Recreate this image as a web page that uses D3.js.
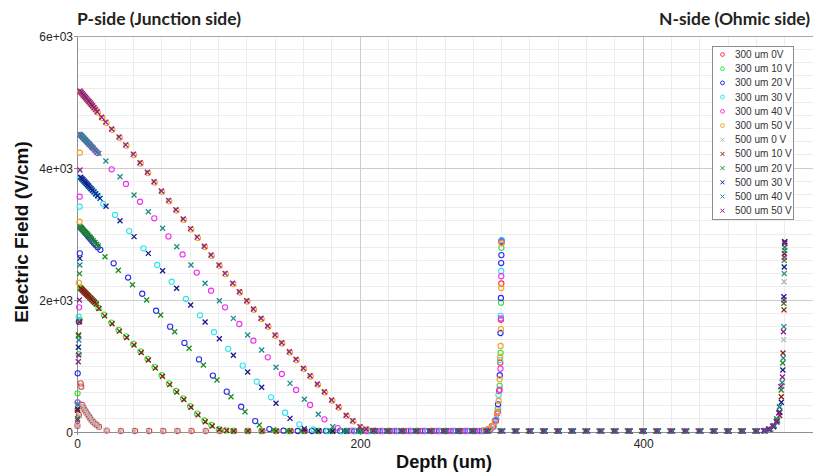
<!DOCTYPE html>
<html><head><meta charset="utf-8">
<script src="https://cdn.jsdelivr.net/npm/d3@7"></script>
<style>body{margin:0;background:#fff}svg{display:block}</style>
</head><body>
<svg id="chart" width="813" height="473"></svg>
<script>
// Electric field vs depth, 300 um and 500 um sensors at several bias voltages
const legendLabels = ["300 um 0V","300 um 10 V","300 um 20 V","300 um 30 V","300 um 40 V","300 um 50 V",
  "500 um 0 V","500 um 10 V","500 um 20 V","500 um 30 V","500 um 40 V","500 um 50 V"];
const seriesColors = ["#ee3b3b","#2ee62e","#2a2aee","#2ee4f0","#ee2eee","#f5a326",
  "#b4b4b4","#8b1a1a","#1e8c1e","#1a1a8b","#1f8b8b","#8b1f8b"];
const seriesShapes = ["circle","circle","circle","circle","circle","circle","cross","cross","cross","cross","cross","cross"];
const xTickValues = [0,200,400];
const yTickValues = [0,2000,4000,6000];
const yTickLabels = ["0","2e+03","4e+03","6e+03"];

// [depth (um), field (V/cm)]
const s300_0V = [[0.3,95],[1.4,260],[2.6,738],[3.0,686],
 [3.7,409],[4.5,374],[5.4,333],[6.4,303],[7.3,273],[8.3,242],[9.2,212],[10.1,182],[11.3,156],[12.5,131],[13.9,106],[15.5,80],
 [21,22],[31,15],[41,15],[51,15],[61,15],[71,15],[81,15],[91,15],[101,15],[111,15],[121,15],[131,15],[141,15],[151,15],[161,15],[171,15],[181,15],[191,15],[201,15],[211,15],[221,15],[231,15],[241,15],[251,15],[261,15],[271,15],[281,15],
 [287,22],[290.5,45],[293,90],[295.2,170],[296.8,280],[298.2,620],[299.1,1050],[299.5,1700],[299.8,2250],[300,2870]];
const s300_10V = [[0.4,586],[1.2,1180],[1.9,1700],
 [2.4,2190],[3.1,2174],[3.8,2158],[4.5,2142],[5.2,2126],[5.9,2110],[6.6,2094],[7.3,2078],[8.0,2062],[8.8,2045],[9.6,2027],[10.4,2010],[11.3,1990],[12.2,1970],[13.4,1945],[15.2,1880],
 [19.0,1778],[24.2,1658],[29.4,1546],[34.5,1450],[39.7,1336],[44.8,1223],[49.8,1109],[54.8,986],[59.8,863],[64.9,736],[69.9,622],[74.9,510],[79.9,392],[84.9,278],[90.0,174],[94.9,106],[100.1,45],[105.1,24],
 [110.2,15],[120.2,15],[130.2,15],[140.2,15],[150.2,15],[160.2,15],[170.2,15],[180.2,15],[190.2,15],[200.2,15],[210.2,15],[220.2,15],[230.2,15],[240.2,15],[250.2,15],[260.2,15],[270.2,15],[280.2,15],
 [289,20],[291.8,40],[294,85],[295.8,160],[297.3,350],[298.6,700],[299.3,1200],[299.6,1960],[299.85,2790],[300,2890]];
const s300_20V = [[0.5,889],[1.3,1671],[2.0,2707],
 [2.5,3100],[3.3,3080],[4.1,3060],[4.9,3040],[5.7,3020],[6.5,3000],[7.3,2980],[8.1,2960],[8.9,2940],[9.8,2917],[10.8,2892],[11.9,2865],[13.1,2835],[14.6,2800],[16.5,2760],
 [25.9,2556],[36.1,2340],[46.1,2095],[55.9,1838],[65.8,1596],[75.9,1350],[86.2,1100],[96,855],[105.8,611],[116,383],[125.9,165],[135.9,45],[145.9,20],
 [155.9,15],[165.9,15],[175.9,15],[185.9,15],[195.9,15],[205.9,15],[215.9,15],[225.9,15],[235.9,15],[245.9,15],[255.9,15],[265.9,15],[275.9,15],[285.9,15],
 [289.5,18],[292,38],[294.2,80],[296,170],[297.5,420],[298.7,860],[299.2,1500],[299.5,2030],[299.7,2560],[299.85,2680],[300,2900]];
const s300_30V = [[0.4,450],[1.2,1747],[1.9,3414],
 [2.6,3850],[3.4,3833],[4.2,3815],[5.0,3797],[5.8,3779],[6.6,3761],[7.4,3743],[8.2,3725],[9.0,3706],[9.9,3685],[10.9,3662],[12.0,3636],[13.2,3607],[14.7,3572],
 [18.6,3455],[26.9,3288],[36.9,3045],[46.9,2783],[56.7,2530],[66.9,2277],[77,2015],[86.9,1768],[96.8,1512],[106.9,1260],[117.1,1005],[127,762],[137.1,526],[147,292],[157.1,116],[167,38],
 [177,15],[187,15],[197,15],[207,15],[217,15],[227,15],[237,15],[247,15],[257,15],[267,15],[277,15],[287,15],
 [289.8,20],[292.5,45],[294.6,95],[296.3,200],[297.8,560],[298.9,1090],[299.4,1760],[299.7,2440],[300,2910]];
const s300_40V = [[0.5,450],[1.5,1889],[1.9,3565],
 [2.5,4500],[3.3,4482],[4.1,4464],[4.9,4446],[5.7,4428],[6.5,4410],[7.3,4392],[8.1,4374],[8.9,4355],[9.8,4334],[10.8,4311],[11.9,4286],[13.1,4258],[14.5,4226],
 [24.5,3980],[34.6,3758],[44.5,3489],[54.6,3238],[64.6,2964],[74.6,2690],[84.6,2415],[94.7,2141],[104.6,1889],[114.7,1636],[124.6,1383],[134.8,1131],[144.7,879],[154.8,636],[164.7,409],[174.8,192],[184.2,60],[194.2,22],
 [204.2,15],[214.2,15],[224.2,15],[234.2,15],[244.2,15],[254.2,15],[264.2,15],[274.2,15],[284.2,15],
 [289.2,18],[291.8,40],[294,85],[295.9,180],[297.4,310],[298.6,640],[299.2,960],[299.5,1720],[299.75,2360],[300,2880]];
const s300_50V = [[0.3,333],[1.3,2262],[1.8,3186],[2.0,4232],
 [2.4,5150],[3.2,5131],[4.0,5111],[4.8,5091],[5.6,5071],[6.4,5051],[7.2,5031],[8.0,5011],[8.8,4991],[9.6,4971],[10.5,4948],[11.4,4925],[12.4,4900],[13.5,4872],[14.8,4840],
 [17.9,4758],[20.8,4683],[25.0,4578],[30.2,4458],[34.9,4338],[40.3,4198],[45.0,4068],[50.2,3923],[54.9,3780],[60.1,3639],[65.2,3498],[70.4,3355],[75.5,3214],[80.7,3070],[85.4,2941],[90.4,2803],[95.2,2670],[100.8,2518],[105.1,2392],[110.5,2241],[115.2,2114],[120.4,1977],[125.1,1852],[130.5,1711],[135.2,1594],[140.4,1458],[145.1,1341],[150.5,1205],[155.2,1089],[160.4,953],[165.1,841],[170.3,715],[175.2,599],[180.4,473],[185.1,371],[190.6,243],[195.3,161],[200.4,74],[204.7,40],[210,20],
 [220,15],[230,15],[240,15],[250,15],[260,15],[270,15],[280,15],
 [288.5,20],[291,42],[293.3,80],[295.3,150],[296.9,300],[297.9,470],[298.6,800],[299.0,1136],[299.3,1303],[299.5,1560],[299.75,2182],[300,2860]];

const s500_0V = [[0.4,90],[1.5,250],[2.7,710],
 [3.9,400],[4.7,366],[5.6,328],[6.6,298],[7.5,268],[8.5,237],[9.4,207],[10.3,178],[11.5,152],[12.7,127],[14.1,103],[15.7,78],
 [20.5,22],[30.5,15],[40.5,15],[50.5,15],[60.5,15],[70.5,15],[80.5,15],[90.5,15],[100.5,15],[110.5,15],[120.5,15],[130.5,15],[140.5,15],[150.5,15],[160.5,15],[170.5,15],[180.5,15],[190.5,15],[200.5,15],[210.5,15],[220.5,15],[230.5,15],[240.5,15],[250.5,15],[260.5,15],[270.5,15],[280.5,15],[290.5,15],[300.5,15],[310.5,15],[320.5,15],[330.5,15],[340.5,15],[350.5,15],[360.5,15],[370.5,15],[380.5,15],[390.5,15],[400.5,15],[410.5,15],[420.5,15],[430.5,15],[440.5,15],[450.5,15],[460.5,15],[470.5,15],[480.5,15],
 [487,22],[490.5,45],[493,90],[495.2,170],[496.8,300],[498.2,700],[499.2,1400],[499.6,2277],[500,2850]];
const s500_10V = [[0.4,330],[1.1,1470],[1.8,1671],
 [2.6,2177],[3.3,2162],[4.0,2147],[4.7,2132],[5.4,2117],[6.1,2102],[6.8,2087],[7.5,2072],[8.2,2057],[9.0,2040],[9.8,2022],[10.6,2004],[11.5,1985],[12.4,1966],[13.6,1940],[15.5,1870],
 [19.6,1760],[24.8,1640],[30.0,1528],[35.1,1432],[40.3,1318],[45.4,1205],[50.4,1091],[55.4,968],[60.4,845],[65.5,718],[70.5,604],[75.5,492],[80.5,374],[85.5,260],[90.6,156],[95.5,90],[100.7,38],[105.7,22],
 [110.7,15],[120.7,15],[130.7,15],[140.7,15],[150.7,15],[160.7,15],[170.7,15],[180.7,15],[190.7,15],[200.7,15],[210.7,15],[220.7,15],[230.7,15],[240.7,15],[250.7,15],[260.7,15],[270.7,15],[280.7,15],[290.7,15],[300.7,15],[310.7,15],[320.7,15],[330.7,15],[340.7,15],[350.7,15],[360.7,15],[370.7,15],[380.7,15],[390.7,15],[400.7,15],[410.7,15],[420.7,15],[430.7,15],[440.7,15],[450.7,15],[460.7,15],[470.7,15],[480.7,15],
 [486.5,20],[489.6,40],[492.3,85],[494.6,170],[496.4,250],[497.6,535],[498.8,1197],[499.5,1850],[499.8,2700],[500,2880]];
const s500_20V = [[0.4,200],[1.0,1454],[1.8,2400],
 [2.1,3111],[2.9,3094],[3.7,3076],[4.5,3058],[5.3,3040],[6.1,3022],[6.9,3004],[7.7,2986],[8.5,2968],[9.4,2947],[10.4,2924],[11.5,2898],[12.7,2870],[13.9,2842],[15,2818],
 [19.8,2656],[29.2,2450],[39.2,2230],[49.2,2000],[59.1,1773],[69,1520],[79.2,1268],[89.3,1015],[98.9,788],[108.8,535],[118.7,308],[128.8,106],[138.8,32],
 [148.8,15],[158.8,15],[168.8,15],[178.8,15],[188.8,15],[198.8,15],[208.8,15],[218.8,15],[228.8,15],[238.8,15],[248.8,15],[258.8,15],[268.8,15],[278.8,15],[288.8,15],[298.8,15],[308.8,15],[318.8,15],[328.8,15],[338.8,15],[348.8,15],[358.8,15],[368.8,15],[378.8,15],[388.8,15],[398.8,15],[408.8,15],[418.8,15],[428.8,15],[438.8,15],[448.8,15],[458.8,15],[468.8,15],[478.8,15],
 [485.5,20],[488.8,42],[491.8,85],[494.3,200],[496.2,380],[497.5,636],[498.6,1045],[499.4,1950],[499.7,2600],[500,2800]];
const s500_30V = [[0.4,350],[1.0,1283],[2.0,2631],
 [2.6,3859],[3.4,3840],[4.2,3821],[5.0,3802],[5.8,3783],[6.6,3764],[7.4,3745],[8.2,3726],[9.0,3707],[9.9,3686],[10.9,3663],[12.0,3638],[13.2,3611],[14.6,3580],[16.3,3540],
 [20.5,3420],[30.4,3200],[40.3,2960],[50.4,2707],[60.5,2444],[70.4,2177],[80.3,1924],[90.5,1667],[100.6,1414],[110.5,1162],[120.6,909],[130.5,677],[140.6,435],[150.5,207],[160.6,50],
 [170.6,15],[180.6,15],[190.6,15],[200.6,15],[210.6,15],[220.6,15],[230.6,15],[240.6,15],[250.6,15],[260.6,15],[270.6,15],[280.6,15],[290.6,15],[300.6,15],[310.6,15],[320.6,15],[330.6,15],[340.6,15],[350.6,15],[360.6,15],[370.6,15],[380.6,15],[390.6,15],[400.6,15],[410.6,15],[420.6,15],[430.6,15],[440.6,15],[450.6,15],[460.6,15],[470.6,15],[480.6,15],
 [486,18],[489.3,40],[492,80],[494.5,150],[496.3,300],[497.6,450],[498.7,939],[499.4,2050],[499.7,2500],[500,2883]];
const s500_40V = [[0.5,420],[1.3,1394],[2.0,2530],
 [2.1,4510],[2.9,4492],[3.7,4474],[4.5,4456],[5.3,4438],[6.1,4420],[6.9,4402],[7.7,4384],[8.5,4366],[9.4,4346],[10.4,4323],[11.5,4298],[12.7,4271],[14,4243],[15.5,4222],
 [20.4,4105],[30.4,3868],[40.3,3591],[50.4,3338],[60.5,3086],[70.5,2808],[80.5,2531],[90.5,2253],[100.6,1989],[110.5,1722],[120.6,1470],[130.5,1242],[140.6,980],[150.5,737],[160.6,495],[170.5,268],[180.7,80],[190.7,25],
 [200.7,15],[210.7,15],[220.7,15],[230.7,15],[240.7,15],[250.7,15],[260.7,15],[270.7,15],[280.7,15],[290.7,15],[300.7,15],[310.7,15],[320.7,15],[330.7,15],[340.7,15],[350.7,15],[360.7,15],[370.7,15],[380.7,15],[390.7,15],[400.7,15],[410.7,15],[420.7,15],[430.7,15],[440.7,15],[450.7,15],[460.7,15],[470.7,15],[480.7,15],
 [486.2,20],[489.5,40],[492.5,100],[494.8,180],[496.5,383],[498.2,750],[499,1120],[499.4,1596],[499.7,2400],[500,2750]];
const s500_50V = [[0.3,180],[0.9,1065],[1.2,1167],[1.7,2000],[2.1,3970],
 [2.1,5167],[2.9,5147],[3.7,5127],[4.5,5107],[5.3,5087],[6.1,5067],[6.9,5047],[7.7,5027],[8.5,5007],[9.3,4987],[10.1,4966],[11,4943],[12,4917],[13.1,4888],[14.3,4853],
 [17.4,4770],[20.3,4695],[24.5,4590],[29.7,4470],[34.4,4350],[39.8,4210],[44.5,4080],[49.7,3935],[54.4,3792],[59.6,3651],[64.7,3510],[69.9,3367],[75,3226],[80.2,3082],[84.9,2953],[89.9,2815],[94.7,2682],[100.3,2530],[104.6,2404],[110,2253],[114.7,2126],[119.9,1989],[124.6,1864],[130,1723],[134.7,1606],[139.9,1470],[144.6,1353],[150,1217],[154.7,1101],[159.9,965],[164.6,853],[169.8,727],[174.7,611],[179.9,485],[184.6,383],[190.1,253],[194.8,171],[199.9,80],[204.2,45],[209.5,22],
 [219.5,15],[229.5,15],[239.5,15],[249.5,15],[259.5,15],[269.5,15],[279.5,15],[289.5,15],[299.5,15],[309.5,15],[319.5,15],[329.5,15],[339.5,15],[349.5,15],[359.5,15],[369.5,15],[379.5,15],[389.5,15],[399.5,15],[409.5,15],[419.5,15],[429.5,15],[439.5,15],[449.5,15],[459.5,15],[469.5,15],[479.5,15],
 [485,20],[488.5,45],[491.5,90],[494,160],[495.8,288],[497.2,687],[498.4,833],[499.1,1520],[499.5,2000],[499.75,2650],[500,2860]];

const seriesData = [s300_0V,s300_10V,s300_20V,s300_30V,s300_40V,s300_50V,
  s500_0V,s500_10V,s500_20V,s500_30V,s500_40V,s500_50V];
const series = seriesData.map((data,i)=>({label:legendLabels[i],color:seriesColors[i],shape:seriesShapes[i],data}));

const svg = d3.select("#chart");
const margin = {left:77, top:36, right:0, bottom:41};
const W = 813, H = 473;
const x = d3.scaleLinear().domain([0,520]).range([margin.left, W - margin.right]);
const y = d3.scaleLinear().domain([0,6000]).range([H - margin.bottom, margin.top]);

// grid: minor every 20 um / 200 V/cm, major at labelled ticks
const grid = svg.append("g");
const minorX = d3.range(20, 521, 20).filter(v => !xTickValues.includes(v));
const minorY = d3.range(200, 6000, 200).filter(v => !yTickValues.includes(v));
grid.selectAll(".mx").data(minorX).join("line")
  .attr("x1",d=>x(d)).attr("x2",d=>x(d)).attr("y1",y(0)).attr("y2",y(6000))
  .attr("stroke","#ececec").attr("stroke-width",1).attr("shape-rendering","crispEdges");
grid.selectAll(".my").data(minorY).join("line")
  .attr("x1",x(0)).attr("x2",W).attr("y1",d=>y(d)).attr("y2",d=>y(d))
  .attr("stroke","#ececec").attr("stroke-width",1).attr("shape-rendering","crispEdges");
grid.selectAll(".Mx").data(xTickValues.filter(v=>v>0)).join("line")
  .attr("x1",d=>x(d)).attr("x2",d=>x(d)).attr("y1",y(0)).attr("y2",y(6000))
  .attr("stroke","#cdcdcd").attr("stroke-width",1).attr("shape-rendering","crispEdges");
grid.selectAll(".My").data(yTickValues.filter(v=>v>0)).join("line")
  .attr("x1",x(0)).attr("x2",W).attr("y1",d=>y(d)).attr("y2",d=>y(d))
  .attr("stroke",d=>d===6000?"#a8a8a8":"#cdcdcd").attr("stroke-width",1).attr("shape-rendering","crispEdges");

// axes
const axisFont = "'Liberation Sans', Arial, sans-serif";
const yAxis = svg.append("g").attr("transform",`translate(${margin.left},0)`)
  .call(d3.axisLeft(y).tickValues(yTickValues).tickFormat((d,i)=>yTickLabels[i]).tickSize(3).tickSizeOuter(0));
const xAxis = svg.append("g").attr("transform",`translate(0,${H-margin.bottom})`)
  .call(d3.axisBottom(x).tickValues(xTickValues).tickFormat(d3.format("d")).tickSize(3).tickSizeOuter(0));
[yAxis,xAxis].forEach(g=>{
  g.select(".domain").attr("stroke","#8f8f8f").attr("shape-rendering","crispEdges");
  g.selectAll(".tick line").attr("stroke","#8f8f8f");
  g.selectAll(".tick text").attr("font-family",axisFont).attr("font-size",12).attr("fill","#262626");
});
yAxis.selectAll(".tick text").attr("x",-4).attr("dy","0.36em");
xAxis.selectAll(".tick text").attr("y",7);

// points
const plot = svg.append("g");
const crossPath = "M-2.5,-2.5L2.5,2.5M-2.5,2.5L2.5,-2.5";
series.forEach(s=>{
  const g = plot.append("g");
  if (s.shape === "circle") {
    g.selectAll("circle").data(s.data).join("circle")
      .attr("cx",d=>x(d[0])).attr("cy",d=>y(d[1])).attr("r",2.6)
      .attr("fill","none").attr("stroke",s.color).attr("stroke-width",1.1);
  } else {
    g.selectAll("path").data(s.data).join("path")
      .attr("transform",d=>`translate(${x(d[0])},${y(d[1])})`).attr("d",crossPath)
      .attr("fill","none").attr("stroke",s.color).attr("stroke-width",1.3);
  }
});

// legend
const lg = svg.append("g").attr("transform","translate(712,46)");
lg.append("rect").attr("x",0.5).attr("y",0.5).attr("width",81).attr("height",173)
  .attr("fill","#fff").attr("stroke","#8c8c8c").attr("stroke-width",1);
const rows = lg.selectAll(".row").data(series).join("g")
  .attr("transform",(d,i)=>`translate(0,${8.5 + i*14.2})`);
rows.each(function(d){
  const r = d3.select(this);
  if (d.shape === "circle") {
    r.append("circle").attr("cx",10.5).attr("cy",0).attr("r",1.9).attr("fill","none").attr("stroke",d.color).attr("stroke-width",1);
  } else {
    r.append("path").attr("transform","translate(10.5,0)").attr("d","M-2,-2L2,2M-2,2L2,-2").attr("fill","none").attr("stroke",d.color).attr("stroke-width",1);
  }
});
rows.append("text").attr("x",23).attr("y",0).attr("dy","0.35em")
  .attr("font-family",axisFont).attr("font-size",10).attr("fill","#333")
  .text(d=>d.label);

// titles
const titleFont = "Lato, 'Open Sans', sans-serif";
svg.append("text").attr("x",77).attr("y",25).attr("font-family",titleFont).attr("font-weight","bold")
  .attr("font-size",17).attr("fill","#222").attr("textLength",164).attr("lengthAdjust","spacingAndGlyphs")
  .text("P-side (Junction side)");
svg.append("text").attr("x",810).attr("y",25).attr("text-anchor","end").attr("font-family",titleFont).attr("font-weight","bold")
  .attr("font-size",17).attr("fill","#222").attr("textLength",151).attr("lengthAdjust","spacingAndGlyphs")
  .text("N-side (Ohmic side)");
svg.append("text").attr("x",444).attr("y",468).attr("text-anchor","middle").attr("font-family",axisFont).attr("font-weight","bold")
  .attr("font-size",18).attr("fill","#111").attr("textLength",96).attr("lengthAdjust","spacingAndGlyphs")
  .text("Depth (um)");
svg.append("text").attr("transform","translate(28,232) rotate(-90)").attr("text-anchor","middle").attr("font-family",axisFont).attr("font-weight","bold")
  .attr("font-size",19).attr("fill","#111")
  .text("Electric Field (V/cm)");
</script>
</body></html>
